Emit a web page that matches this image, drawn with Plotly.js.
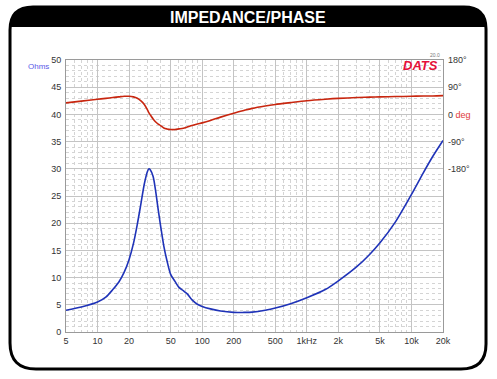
<!DOCTYPE html>
<html>
<head>
<meta charset="utf-8">
<script src="https://cdn.plot.ly/plotly-3.0.1.min.js"></script>
<style>html,body{margin:0;padding:0;background:#fff;}#chart{width:497px;height:379px;}</style>
</head>
<body>
<div id="chart"></div>
<script>
const freq = [5, 7, 10, 12, 14, 16, 18, 20, 22, 24, 26, 28, 30, 31, 32, 34, 36, 38, 40, 43, 46, 50, 55, 60, 66, 72, 80, 90, 100, 120, 150, 200, 250, 300, 400, 500, 700, 1000, 1500, 2000, 3000, 4000, 5000, 7000, 10000, 13000, 16000, 20000];
const impedance = [4.0, 4.6, 5.5, 6.4, 7.8, 9.2, 11.0, 13.3, 16.2, 19.8, 23.6, 27.2, 29.5, 30.0, 29.8, 28.6, 25.8, 22.5, 19.6, 15.8, 13.2, 10.6, 9.3, 8.2, 7.6, 7.0, 5.9, 5.1, 4.7, 4.25, 3.85, 3.6, 3.6, 3.65, 4.0, 4.4, 5.2, 6.3, 7.8, 9.4, 12.0, 14.3, 16.4, 20.2, 25.3, 29.3, 32.3, 35.2];
const phase = [38, 44, 50, 53, 56, 58, 60, 60, 58, 53.5, 45, 33, 15, 5, -2, -15, -25, -32, -37, -45, -48, -50, -50, -48, -46, -42, -37, -32, -28, -20, -9, 4, 13, 20, 28, 33, 39, 45, 50, 53, 56, 57, 58, 59, 60, 61, 61, 62];

const xTickVals = [5, 10, 20, 50, 100, 200, 500, 1000, 2000, 5000, 10000, 20000];
const xTickText = ['5', '10', '20', '50', '100', '200', '500', '1kHz', '2k', '5k', '10k', '20k'];
const phaseTickVals = [180, 90, 0, -90, -180];
const phaseTickText = ['180°', '90°', '0 <span style="color:#e03a3a">deg</span>', '-90°', '-180°'];

// minor grid positions (1..9 multiples per decade)
const xMinor = [];
[1, 10, 100, 1000, 10000].forEach(d => { for (let m = 1; m <= 9; m++) { const v = m * d; if (v > 5 && v < 20000 && xTickVals.indexOf(v) < 0) xMinor.push(v); } });

// page geometry helpers (pixels -> paper)
const L = 66, R = 443, T = 60, B = 332;
const px = x => (x - L) / (R - L);
const py = y => (B - y) / (B - T);
const P = (x, y) => px(x).toFixed(4) + ',' + py(y).toFixed(4);

const framePath = 'M' + P(10, 30) + ' Q' + P(10, 7) + ' ' + P(33, 7) + ' L' + P(464, 7) +
  ' Q' + P(486, 7) + ' ' + P(486, 29) + ' L' + P(486, 344) + ' Q' + P(486, 369) + ' ' + P(461, 369) +
  ' L' + P(36, 369) + ' Q' + P(10, 369) + ' ' + P(10, 343) + ' Z';
const barPath = 'M' + P(10, 30) + ' Q' + P(10, 7) + ' ' + P(33, 7) + ' L' + P(464, 7) +
  ' Q' + P(486, 7) + ' ' + P(486, 29) + ' L' + P(486, 27) + ' L' + P(10, 27) + ' Z';

const traces = [
  { x: freq, y: phase, yaxis: 'y2', type: 'scatter', mode: 'lines', line: { color: '#c8260f', width: 1.6, shape: 'spline', smoothing: 0.8 }, hoverinfo: 'skip' },
  { x: freq, y: impedance, type: 'scatter', mode: 'lines', line: { color: '#1f33b8', width: 1.6, shape: 'spline', smoothing: 0.8 }, hoverinfo: 'skip' }
];

const layout = {
  width: 497, height: 379,
  margin: { l: L, r: 497 - R, t: T, b: 379 - B },
  paper_bgcolor: '#ffffff', plot_bgcolor: '#ffffff',
  showlegend: false,
  font: { family: 'Liberation Sans, Arial, sans-serif', size: 9, color: '#333333' },
  xaxis: {
    type: 'log', range: [Math.log10(5), Math.log10(20000)],
    tickmode: 'array', tickvals: xTickVals, ticktext: xTickText,
    showgrid: true, gridcolor: '#c4c4c4', gridwidth: 1,
    minor: { tickmode: 'array', tickvals: xMinor, showgrid: true, gridcolor: '#d4d4d4', griddash: '3px,3px', gridwidth: 1, ticks: '' },
    showline: true, linecolor: '#9a9a9a', linewidth: 1, mirror: true,
    ticks: '', zeroline: false, fixedrange: true,
    tickfont: { size: 9, color: '#333' }
  },
  yaxis: {
    range: [0, 50], tickmode: 'linear', tick0: 0, dtick: 5,
    showgrid: true, gridcolor: '#c4c4c4', gridwidth: 1,
    minor: { dtick: 1, showgrid: true, gridcolor: '#d4d4d4', griddash: '3px,3px', gridwidth: 1, ticks: '' },
    showline: true, linecolor: '#9a9a9a', linewidth: 1, mirror: true,
    ticks: '', zeroline: false, fixedrange: true, ticklabelstandoff: 2,
    tickfont: { size: 9, color: '#333' }
  },
  yaxis2: {
    overlaying: 'y', side: 'right', range: [-720, 180],
    tickmode: 'array', tickvals: phaseTickVals, ticktext: phaseTickText,
    showgrid: false, zeroline: false, ticks: '', showline: false, fixedrange: true,
    ticklabelstandoff: 4,
    tickfont: { size: 9, color: '#333' }
  },
  shapes: [
    { type: 'path', xref: 'paper', yref: 'paper', path: barPath, fillcolor: '#000000', line: { width: 0 }, layer: 'below' },
    { type: 'path', xref: 'paper', yref: 'paper', path: framePath, fillcolor: 'rgba(0,0,0,0)', line: { color: '#000000', width: 3 }, layer: 'below' }
  ],
  annotations: [
    { text: '<b>IMPEDANCE/PHASE</b>', xref: 'paper', yref: 'paper', x: px(248), y: py(17.5), showarrow: false, xanchor: 'center', yanchor: 'middle', font: { size: 16, color: '#ffffff', family: 'Liberation Sans, Arial, sans-serif' } },
    { text: 'Ohms', xref: 'paper', yref: 'paper', x: px(51), y: py(66), showarrow: false, xanchor: 'right', yanchor: 'middle', font: { size: 8, color: '#5a5ae8' } },
    { text: '<b><i>DATS</i></b>', xref: 'paper', yref: 'paper', x: px(440), y: py(65), showarrow: false, xanchor: 'right', yanchor: 'middle', font: { size: 13, color: '#e5103a', family: 'Liberation Sans, Arial, sans-serif' } },
    { text: '20.0', xref: 'paper', yref: 'paper', x: px(442), y: py(55), showarrow: false, xanchor: 'right', yanchor: 'middle', font: { size: 5, color: '#777' } }
  ]
};

Plotly.newPlot('chart', traces, layout, { staticPlot: true, displayModeBar: false });
</script>
</body>
</html>
